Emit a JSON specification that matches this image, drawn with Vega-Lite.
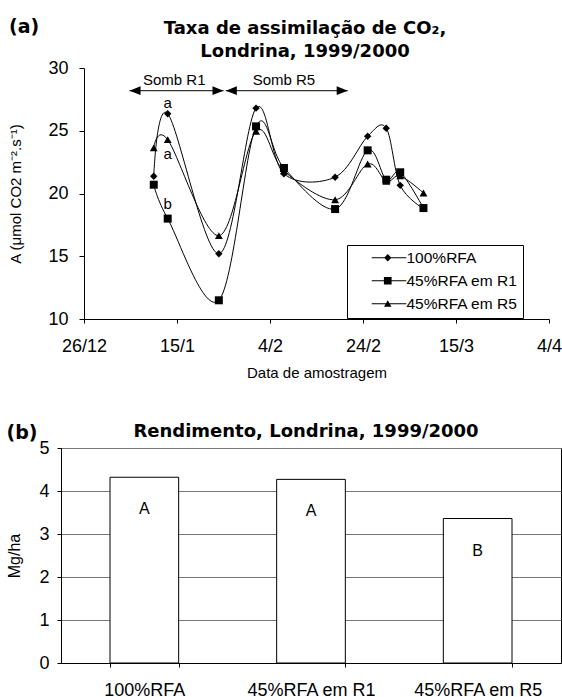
{
  "$schema": "https://vega.github.io/schema/vega-lite/v6.json",
  "background": "white",
  "padding": {"left": 6, "top": 18, "right": 0, "bottom": 0},
  "spacing": 42,
  "config": {
    "font": "Liberation Sans",
    "view": {"stroke": "black", "strokeWidth": 1},
    "axis": {"domainColor": "black", "tickColor": "black", "labelColor": "black", "titleColor": "black", "labelFont": "Liberation Sans", "titleFont": "Liberation Sans", "titleFontWeight": "normal"},
    "title": {"font": "DejaVu Sans", "fontWeight": "bold", "fontSize": 18, "color": "black"}
  },
  "vconcat": [
    {
      "title": {"text": "(a)", "anchor": "start", "frame": "bounds", "offset": -17, "fontSize": 19},
      "vconcat": [
        {
          "width": 488,
          "height": 251,
          "view": {"stroke": null},
          "title": {"text": ["Taxa de assimilação de CO₂,", "Londrina, 1999/2000"], "anchor": "middle", "frame": "group", "lineHeight": 23, "offset": -2, "dx": 0},
          "data": {"values": [
            {"data": "2000-01-10", "A": 21.37, "serie": "100%RFA"},
            {"data": "2000-01-13", "A": 26.36, "serie": "100%RFA"},
            {"data": "2000-01-24", "A": 15.2, "serie": "100%RFA"},
            {"data": "2000-02-01", "A": 26.8, "serie": "100%RFA"},
            {"data": "2000-02-07", "A": 21.58, "serie": "100%RFA"},
            {"data": "2000-02-18", "A": 21.3, "serie": "100%RFA"},
            {"data": "2000-02-25", "A": 24.56, "serie": "100%RFA"},
            {"data": "2000-02-29", "A": 25.2, "serie": "100%RFA"},
            {"data": "2000-03-03", "A": 20.65, "serie": "100%RFA"},
            {"data": "2000-03-08", "A": 18.8, "serie": "100%RFA"},
            {"data": "2000-01-10", "A": 20.7, "serie": "45%RFA em R1"},
            {"data": "2000-01-13", "A": 18.0, "serie": "45%RFA em R1"},
            {"data": "2000-01-24", "A": 11.49, "serie": "45%RFA em R1"},
            {"data": "2000-02-01", "A": 25.35, "serie": "45%RFA em R1"},
            {"data": "2000-02-07", "A": 22.03, "serie": "45%RFA em R1"},
            {"data": "2000-02-18", "A": 18.76, "serie": "45%RFA em R1"},
            {"data": "2000-02-25", "A": 23.44, "serie": "45%RFA em R1"},
            {"data": "2000-02-29", "A": 21.1, "serie": "45%RFA em R1"},
            {"data": "2000-03-03", "A": 21.69, "serie": "45%RFA em R1"},
            {"data": "2000-03-08", "A": 18.84, "serie": "45%RFA em R1"},
            {"data": "2000-01-10", "A": 23.63, "serie": "45%RFA em R5"},
            {"data": "2000-01-13", "A": 24.29, "serie": "45%RFA em R5"},
            {"data": "2000-01-24", "A": 16.64, "serie": "45%RFA em R5"},
            {"data": "2000-02-01", "A": 24.96, "serie": "45%RFA em R5"},
            {"data": "2000-02-07", "A": 21.8, "serie": "45%RFA em R5"},
            {"data": "2000-02-18", "A": 19.5, "serie": "45%RFA em R5"},
            {"data": "2000-02-25", "A": 22.35, "serie": "45%RFA em R5"},
            {"data": "2000-02-29", "A": 20.97, "serie": "45%RFA em R5"},
            {"data": "2000-03-03", "A": 21.4, "serie": "45%RFA em R5"},
            {"data": "2000-03-08", "A": 20.04, "serie": "45%RFA em R5"}
          ]},
          "encoding": {
            "x": {
              "field": "data", "type": "temporal",
              "scale": {"type": "utc", "domain": [{"year": 1999, "month": 12, "date": 26, "utc": true}, {"year": 2000, "month": 4, "date": 4, "utc": true}], "range": [23, 488]},
              "axis": {
                "values": [
                  {"year": 1999, "month": 12, "date": 26, "utc": true},
                  {"year": 2000, "month": 1, "date": 15, "utc": true},
                  {"year": 2000, "month": 2, "date": 4, "utc": true},
                  {"year": 2000, "month": 2, "date": 24, "utc": true},
                  {"year": 2000, "month": 3, "date": 15, "utc": true},
                  {"year": 2000, "month": 4, "date": 4, "utc": true}
                ],
                "format": "%-d/%-m", "grid": false, "labelFontSize": 18, "labelPadding": 14, "tickSize": 4,
                "labelFlush": false, "labelOverlap": false,
                "title": "Data de amostragem", "titleFontSize": 15, "titlePadding": 10
              }
            },
            "y": {
              "field": "A", "type": "quantitative",
              "scale": {"domain": [10, 30]},
              "axis": {"values": [10, 15, 20, 25, 30], "grid": false, "offset": -23, "labelFontSize": 18, "labelPadding": 11, "tickSize": 5, "title": "A (μmol CO2 m⁻².s⁻¹)", "titleFontSize": 15, "titlePadding": 24}
            }
          },
          "layer": [
            {
              "data": {"values": [{"g": 15}, {"g": 20}, {"g": 25}]},
              "mark": {"type": "rule", "color": "black", "strokeWidth": 1},
              "encoding": {
                "x": {"datum": {"year": 1999, "month": 12, "date": 26, "utc": true}, "type": "temporal"},
                "x2": {"datum": {"year": 2000, "month": 4, "date": 4, "utc": true}},
                "y": {"field": "g", "type": "quantitative"}
              }
            },
            {
              "data": {"values": [{"y0": 10, "y1": 30}]},
              "mark": {"type": "rect", "fill": "transparent", "stroke": "black", "strokeWidth": 1},
              "encoding": {
                "x": {"datum": {"year": 1999, "month": 12, "date": 26, "utc": true}, "type": "temporal"},
                "x2": {"datum": {"year": 2000, "month": 4, "date": 4, "utc": true}},
                "y": {"field": "y0", "type": "quantitative"},
                "y2": {"field": "y1"}
              }
            },
            {
              "mark": {"type": "line", "interpolate": "cardinal", "color": "black", "strokeWidth": 1},
              "encoding": {"detail": {"field": "serie"}}
            },
            {
              "transform": [{"filter": "datum.serie == '100%RFA'"}],
              "mark": {"type": "point", "shape": "diamond", "filled": true, "color": "black", "opacity": 1, "size": 55}
            },
            {
              "transform": [{"filter": "datum.serie == '45%RFA em R1'"}],
              "mark": {"type": "point", "shape": "square", "filled": true, "color": "black", "opacity": 1, "size": 64}
            },
            {
              "transform": [{"filter": "datum.serie == '45%RFA em R5'"}],
              "mark": {"type": "point", "shape": "triangle-up", "filled": true, "color": "black", "opacity": 1, "size": 62}
            },
            {
              "data": {"values": []},
              "mark": {"type": "point", "filled": true, "color": "black", "opacity": 1, "size": 100},
              "encoding": {
                "shape": {
                  "field": "serie", "type": "nominal",
                  "scale": {"domain": ["100%RFA", "45%RFA em R1", "45%RFA em R5"], "range": [
                    "M2.4,-0.1H9.3V0.1H2.4ZM5.6,-0.73L6.33,0L5.6,0.73L4.87,0Z",
                    "M2.4,-0.1H9.3V0.1H2.4ZM4.83,-0.77H6.37V0.77H4.83Z",
                    "M2.4,-0.1H9.3V0.1H2.4ZM5.6,-0.7L6.35,0.6H4.85Z"
                  ]},
                  "legend": {
                    "orient": "none", "legendX": 286, "legendY": 177, "title": null,
                    "fillColor": "white", "strokeColor": "black", "padding": 5,
                    "labelFontSize": 15.5, "labelFont": "Liberation Sans", "labelColor": "black",
                    "symbolSize": 100, "labelOffset": 39, "rowPadding": 6,
                    "symbolFillColor": "black", "symbolOpacity": 1
                  }
                }
              }
            },
            {
              "data": {"values": [
                {"data": "2000-01-13", "A": 27.2, "t": "a"},
                {"data": "2000-01-13", "A": 23.15, "t": "a"},
                {"data": "2000-01-13", "A": 19.16, "t": "b"}
              ]},
              "mark": {"type": "text", "fontSize": 15, "color": "black", "baseline": "middle"},
              "encoding": {"text": {"field": "t"}}
            },
            {
              "data": {"values": [
                {"data": "2000-01-04T19:00:00Z", "fim": "2000-01-25T00:00:00Z", "A": 28.19},
                {"data": "2000-01-25T12:00:00Z", "fim": "2000-02-20T17:00:00Z", "A": 28.19}
              ]},
              "mark": {"type": "rule", "color": "black", "strokeWidth": 1},
              "encoding": {"x2": {"field": "fim"}}
            },
            {
              "data": {"values": [
                {"data": "2000-01-04T19:00:00Z", "A": 28.19},
                {"data": "2000-01-25T12:00:00Z", "A": 28.19}
              ]},
              "mark": {"type": "point", "filled": true, "color": "black", "opacity": 1, "size": 121, "shape": "M0,0L2,-0.8L2,0.8Z"}
            },
            {
              "data": {"values": [
                {"data": "2000-01-25T00:00:00Z", "A": 28.19},
                {"data": "2000-02-20T17:00:00Z", "A": 28.19}
              ]},
              "mark": {"type": "point", "filled": true, "color": "black", "opacity": 1, "size": 121, "shape": "M0,0L-2,-0.8L-2,0.8Z"}
            },
            {
              "data": {"values": [
                {"data": "2000-01-14T10:00:00Z", "A": 29.04, "t": "Somb R1"},
                {"data": "2000-02-07T00:00:00Z", "A": 29.04, "t": "Somb R5"}
              ]},
              "mark": {"type": "text", "fontSize": 15, "color": "black", "baseline": "middle"},
              "encoding": {"text": {"field": "t"}}
            }
          ]
        }
      ]
    },
    {
      "title": {"text": "(b)", "anchor": "start", "frame": "bounds", "offset": -20, "fontSize": 19},
      "vconcat": [
        {
          "width": 500,
          "height": 215,
          "title": {"text": "Rendimento, Londrina, 1999/2000", "anchor": "middle", "frame": "group", "offset": -2, "dx": -5},
          "data": {"values": [
            {"trat": "100%RFA", "rend": 4.32, "letra": "A"},
            {"trat": "45%RFA em R1", "rend": 4.27, "letra": "A"},
            {"trat": "45%RFA em R5", "rend": 3.36, "letra": "B"}
          ]},
          "encoding": {
            "x": {
              "field": "trat", "type": "nominal", "sort": null,
              "scale": {"paddingInner": 0.588, "paddingOuter": 0.294},
              "axis": {"title": null, "labelAngle": 0, "tickBand": "extent", "labelFontSize": 18, "labelPadding": 14, "tickSize": 4, "grid": false}
            },
            "y": {
              "field": "rend", "type": "quantitative",
              "scale": {"domain": [0, 5]},
              "axis": {"values": [0, 1, 2, 3, 4, 5], "grid": true, "gridColor": "#777777", "gridOpacity": 1, "labelFontSize": 18, "labelPadding": 8, "tickSize": 4, "title": "Mg/ha", "titleFontSize": 16, "titlePadding": 16}
            }
          },
          "layer": [
            {"mark": {"type": "bar", "fill": "white", "stroke": "black", "strokeWidth": 1}},
            {
              "mark": {"type": "text", "dy": 32, "fontSize": 16, "color": "black", "baseline": "middle"},
              "encoding": {"text": {"field": "letra"}}
            }
          ]
        }
      ]
    }
  ]
}
